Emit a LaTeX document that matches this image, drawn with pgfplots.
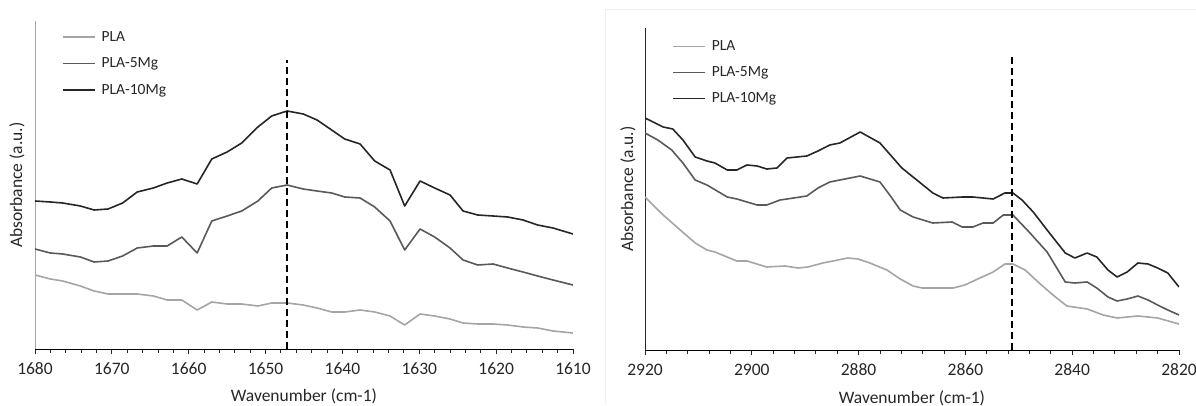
\documentclass[border=0pt]{standalone}
\usepackage{fontspec}
\setmainfont{Carlito}
\usepackage{pgfplots}
\pgfplotsset{compat=1.18}
\definecolor{cPLA}{HTML}{A5A5A5}
\definecolor{cFive}{HTML}{595959}
\definecolor{cTen}{HTML}{262626}
\definecolor{ctext}{HTML}{262626}
\newcommand\fs{\fontsize{15.5bp}{18bp}\selectfont}
\newcommand\fl{\fontsize{17.5bp}{20bp}\selectfont}

\pgfplotsset{
  ftir/.style={
    scale only axis,
    axis x line=bottom, axis y line=left,
    axis line style={-, line width=0.9bp},
    x dir=reverse,
    ytick=\empty, ymin=0,
    tick align=outside,
    minor x tick num=4,
    major tick length=5bp, minor tick length=3.5bp,
    every tick/.style={black!85, line width=0.9bp},
    /pgf/number format/assume math mode=true,
    /pgf/number format/1000 sep={},
    xticklabel style={font=\fl, text=ctext, anchor=center, yshift=-15bp},
    label style={font=\fl, text=ctext},
    legend style={draw=none, fill=none, font=\fs, text=ctext, inner sep=0pt,
      row sep=12.5bp, column sep=6bp, legend cell align=left,
      nodes={inner sep=0pt, text height=11bp, text depth=3bp}},
    legend cell align=left,
    legend image code/.code={\draw[#1, line width=1.6bp] (0bp,0bp) -- (32bp,0bp);},
  }
}

\begin{document}
\begin{tikzpicture}
\useasboundingbox (0,0) rectangle (1196bp,406bp);
\draw[black!6, line width=0.8bp] (605bp,3bp) -- (605bp,397bp) -- (1196bp,397bp);

% ---------------- left panel ----------------
\begin{axis}[ftir,
  at={(35bp,57bp)}, anchor=south west,
  width=538bp, height=328bp,
  xmin=1610, xmax=1680, ymax=328,
  xtick={1610,1620,1630,1640,1650,1660,1670,1680},
  y axis line style={color=cPLA},
  xlabel={Wavenumber (cm-1)}, ylabel={Absorbance (a.u.)},
  xlabel style={at={(axis description cs:0.5,-0.145)}, anchor=center},
  ylabel style={at={(axis description cs:-0.0335,0.5)}, anchor=center},
  legend style={at={(axis description cs:0.05,0.973)}, anchor=north west},
]
\addplot[color=cPLA, line width=1.6bp, line join=round] coordinates {
(1680,74) (1678,70) (1676.4,68) (1674.1,63) (1672.3,58) (1670.5,55) (1668.6,55)
(1666.7,55) (1664.6,53) (1662.8,49) (1660.9,49) (1658.9,39) (1657.0,47) (1655.0,45)
(1653.1,45) (1651.0,43) (1649.2,46) (1647.2,46) (1645.1,44) (1643.3,41) (1641.4,37)
(1639.7,37) (1637.7,39) (1635.8,37) (1633.8,33) (1631.9,24) (1629.9,35) (1628.0,33)
(1626.0,30) (1624.3,26) (1622.4,25) (1620.4,25) (1618.5,24) (1616.5,22) (1614.6,21)
(1612.6,18) (1610,16)};
\addlegendentry{PLA}
\addplot[color=cFive, line width=1.6bp, line join=round] coordinates {
(1680,100) (1678,96) (1676.4,95) (1674.1,92) (1672.3,87) (1670.5,88) (1668.6,93)
(1666.7,101) (1664.6,103) (1662.8,103) (1660.9,112) (1658.9,96) (1657.0,128) (1655.0,133)
(1653.1,138) (1651.0,148) (1649.2,161) (1647.2,164) (1645.1,160) (1643.3,158) (1641.4,156)
(1639.7,152) (1637.7,151) (1635.8,142) (1633.8,128) (1631.9,99) (1629.9,120) (1628.0,112)
(1626.0,101) (1624.3,89) (1622.4,84) (1620.4,85) (1618.5,81) (1616.5,77) (1614.6,73)
(1612.6,69) (1610,64)};
\addlegendentry{PLA-5Mg}
\addplot[color=cTen, line width=1.6bp, line join=round] coordinates {
(1680,148) (1678,147) (1676.4,146) (1674.1,143) (1672.3,139) (1670.5,140) (1668.6,146)
(1666.7,157) (1664.6,161) (1662.8,166) (1660.9,170) (1658.9,165) (1657.0,190) (1655.0,197)
(1653.1,206) (1651.0,222) (1649.2,233) (1647.2,238) (1645.1,235) (1643.3,229) (1641.4,219)
(1639.7,210) (1637.7,205) (1635.8,188) (1633.8,179) (1631.9,143) (1629.9,168) (1628.0,161)
(1626.0,154) (1624.3,138) (1622.4,134) (1620.4,133) (1618.5,132) (1616.5,129) (1614.6,124)
(1612.6,121) (1610,115)};
\addlegendentry{PLA-10Mg}
\addplot[black, dash pattern=on 7bp off 4bp, line width=1.6bp, forget plot]
  coordinates {(1647.2,0) (1647.2,289)};
\end{axis}

% ---------------- right panel ----------------
\begin{axis}[ftir,
  at={(645bp,56bp)}, anchor=south west,
  width=534bp, height=322bp,
  xmin=2820, xmax=2920, ymax=322,
  xtick={2820,2840,2860,2880,2900,2920},
  y axis line style={color=black!85},
  xlabel={Wavenumber (cm-1)}, ylabel={Absorbance (a.u.)},
  xlabel style={at={(axis description cs:0.5,-0.149)}, anchor=center},
  ylabel style={at={(axis description cs:-0.032,0.5)}, anchor=center},
  legend style={at={(axis description cs:0.0506,0.965)}, anchor=north west, row sep=12bp},
]
\addplot[color=cPLA, line width=1.6bp, line join=round] coordinates {
(2920,153) (2916.6,135) (2913.4,120) (2910.6,107) (2908.4,100) (2906.9,98) (2902.8,89)
(2900.9,89) (2897.2,83) (2893.8,84) (2891.3,82) (2889.5,83) (2886.7,87) (2882.0,92)
(2880.1,91) (2877.9,87) (2874.7,80) (2872.2,71) (2869.8,64) (2868.1,62) (2862.3,62)
(2860.1,65) (2857.3,72) (2854.8,78) (2852.6,86) (2851.1,86) (2848.8,80) (2846.4,68)
(2843.6,55) (2841.0,44) (2837.2,41) (2834.2,35) (2831.6,32) (2827.7,34) (2824.0,32)
(2820,26)};
\addlegendentry{PLA}
\addplot[color=cFive, line width=1.6bp, line join=round] coordinates {
(2920,217) (2917.6,210) (2915.0,200) (2912.9,187) (2910.6,170) (2908.4,165) (2904.6,153)
(2902.8,151) (2900.9,148) (2899.0,145) (2897.2,145) (2894.7,150) (2893.4,151) (2889.7,154)
(2887.6,162) (2885.4,168) (2883.5,170) (2879.7,174) (2876.0,168) (2873.9,153) (2872.2,140)
(2869.8,133) (2866.1,127) (2862.5,128) (2860.6,123) (2858.6,123) (2856.7,127) (2854.8,127)
(2852.9,135) (2851.1,135) (2847.9,117) (2844.7,98) (2841.3,68) (2839.5,67) (2837.2,68)
(2835.4,62) (2833.3,53) (2831.6,49) (2829.7,51) (2827.7,54) (2825.8,50) (2824.0,45)
(2822.1,40) (2820,35)};
\addlegendentry{PLA-5Mg}
\addplot[color=cTen, line width=1.6bp, line join=round] coordinates {
(2920,232) (2916.6,223) (2914.8,221) (2912.9,210) (2910.6,193) (2908.4,189) (2906.9,187)
(2904.6,180) (2902.8,180) (2900.9,185) (2899.0,184) (2897.2,181) (2895.3,182) (2893.4,192)
(2889.7,194) (2887.6,199) (2885.4,205) (2883.5,207) (2879.7,218) (2876.0,207) (2871.9,182)
(2869.1,170) (2866.1,157) (2864.2,152) (2860.5,153) (2858.6,153) (2854.8,151) (2852.6,157)
(2851.1,157) (2849.4,150) (2847.3,138) (2844.7,120) (2841.3,97) (2839.5,92) (2837.2,97)
(2835.4,93) (2833.3,80) (2831.6,73) (2829.7,78) (2827.7,87) (2825.8,86) (2824.0,82)
(2822.1,77) (2820,63)};
\addlegendentry{PLA-10Mg}
\addplot[black, dash pattern=on 7bp off 4bp, line width=1.6bp, forget plot]
  coordinates {(2851.3,0) (2851.3,293)};
\end{axis}
\end{tikzpicture}
\end{document}
